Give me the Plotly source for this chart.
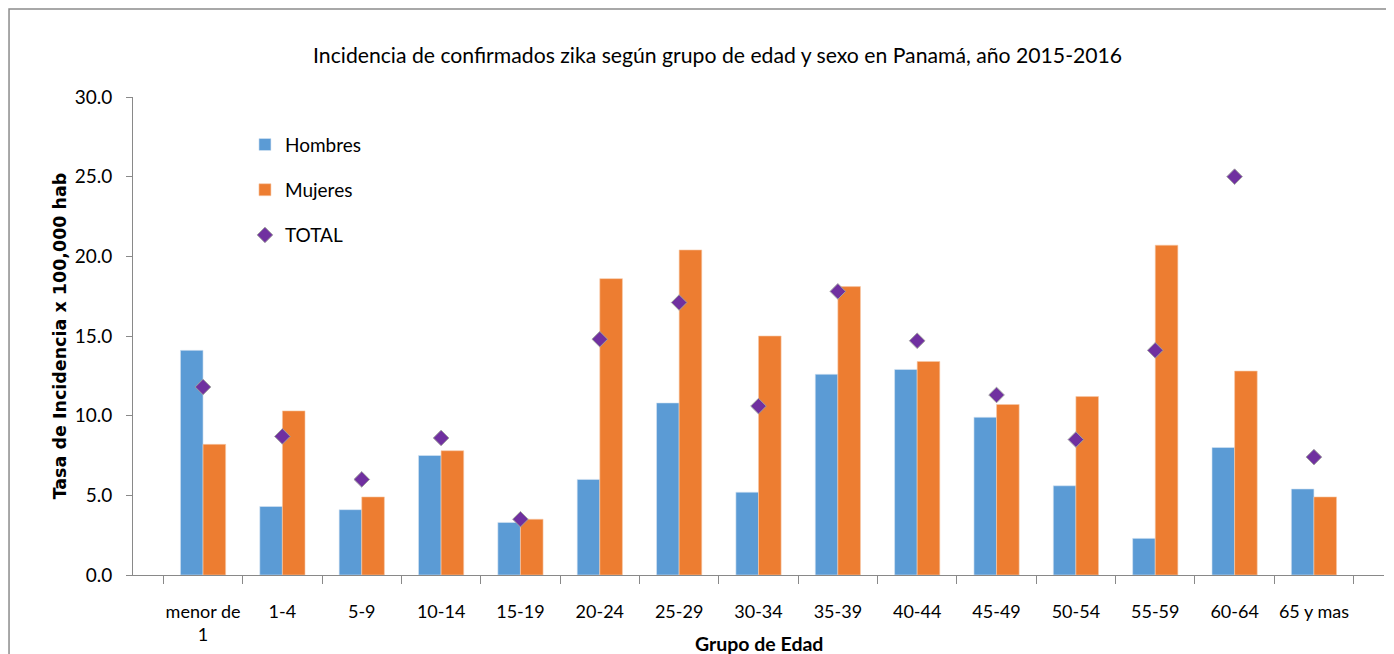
import plotly.graph_objects as go

categories = ["menor de<br>1", "1-4", "5-9", "10-14", "15-19", "20-24", "25-29", "30-34",
              "35-39", "40-44", "45-49", "50-54", "55-59", "60-64", "65 y mas"]
hombres = [14.1, 4.3, 4.1, 7.5, 3.3, 6.0, 10.8, 5.2, 12.6, 12.9, 9.9, 5.6, 2.3, 8.0, 5.4]
mujeres = [8.2, 10.3, 4.9, 7.8, 3.5, 18.6, 20.4, 15.0, 18.1, 13.4, 10.7, 11.2, 20.7, 12.8, 4.9]
total = [11.8, 8.7, 6.0, 8.6, 3.5, 14.8, 17.1, 10.6, 17.8, 14.7, 11.3, 8.5, 14.1, 25.0, 7.4]
y_ticks = [0, 5, 10, 15, 20, 25, 30]

FONT = "Lato"
fig = go.Figure()
fig.add_trace(go.Bar(x=categories, y=hombres, name="Hombres", legendgroup="a",
                     marker=dict(color="#5B9BD5", line=dict(color="#d9e6f3", width=0.6))))
fig.add_trace(go.Bar(x=categories, y=mujeres, name="Mujeres", legendgroup="b",
                     marker=dict(color="#ED7D31", line=dict(color="#f6c9a8", width=0.6))))
fig.add_trace(go.Scatter(x=categories, y=total, name="TOTAL", mode="markers", legendgroup="c",
                         marker=dict(symbol="diamond", size=12, color="#7030A0",
                                     line=dict(color="#a0a0a0", width=1))))

fig.update_layout(
    width=1386, height=646,
    margin=dict(l=125, r=10, t=89, b=79),
    paper_bgcolor="white", plot_bgcolor="white",
    barmode="group", bargap=0.43, bargroupgap=0,
    font=dict(family=FONT, size=18, color="#000000"),
    title=dict(text="Incidencia de confirmados zika según grupo de edad y sexo en Panamá, año 2015-2016",
               x=0.512, xanchor="center", y=0.927, yanchor="middle",
               font=dict(family=FONT, size=21.2, color="#000000")),
    showlegend=True,
    legend=dict(x=0.0895, y=0.94, xanchor="left", yanchor="top", bgcolor="rgba(0,0,0,0)",
                font=dict(family=FONT, size=19), tracegroupgap=17.5, itemwidth=30),
    xaxis=dict(type="category", showline=True, linecolor="#898989", linewidth=1,
               ticks="outside", tickson="boundaries", ticklen=8, tickcolor="#898989",
               showgrid=False, tickangle=0, tickfont=dict(family=FONT, size=18),
               ticklabelstandoff=20, automargin=False),
    yaxis=dict(range=[0, 30], tickvals=y_ticks, tickformat=".1f", showline=True,
               linecolor="#898989", linewidth=1, ticks="outside", ticklen=6,
               tickcolor="#898989", showgrid=False, zeroline=False,
               tickfont=dict(family=FONT, size=19), ticklabelstandoff=10,
               title=dict(text="<b>Tasa de Incidencia x 100,000 hab</b>", standoff=3,
                          font=dict(family="DejaVu Sans", size=17.5)),
               automargin=False),
    shapes=[dict(type="rect", xref="paper", yref="paper", x0=-0.0991, x1=1.2, y0=-0.5, y1=1.184,
                 line=dict(color="#8c8c8c", width=1.5), layer="below")],
    annotations=[dict(text="<b>Grupo de Edad</b>", xref="paper", yref="paper", x=0.5, y=-0.143,
                      xanchor="center", yanchor="middle", showarrow=False,
                      font=dict(family=FONT, size=19.5))],
)

fig.write_html("out.html")
